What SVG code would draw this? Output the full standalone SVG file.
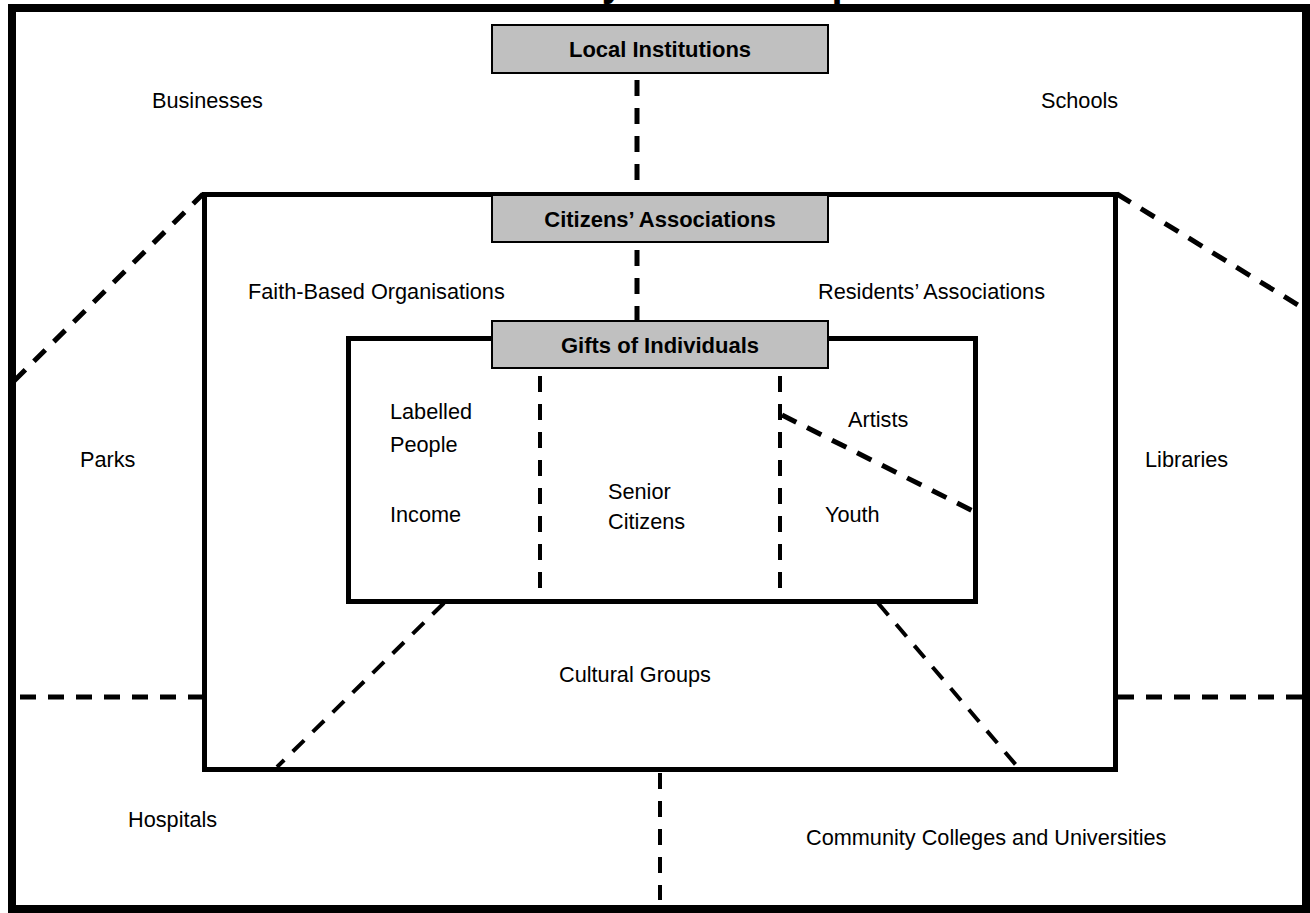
<svg xmlns="http://www.w3.org/2000/svg" width="1310" height="913" viewBox="0 0 1310 913">
<style>
.lbl{font-family:"Liberation Sans",Arial,sans-serif;font-size:21.7px;fill:#000}
.box{fill:#c0c0c0;stroke:#000;stroke-width:2}
.boxt{font-family:"Liberation Sans",Arial,sans-serif;font-size:22px;font-weight:bold;fill:#000;text-anchor:middle}
.frame{fill:none;stroke:#000}
.dash{fill:none;stroke:#000;stroke-width:5;stroke-dasharray:16 12}
.dash4{fill:none;stroke:#000;stroke-width:4;stroke-dasharray:16 12}
</style>
<rect width="1310" height="913" fill="#fff"/>
<text x="404" y="-4" font-family="Liberation Sans,Arial,sans-serif" font-size="40" font-weight="bold">Community Assets Map</text>
<g id="frames">
<rect class="frame" x="12" y="8" width="1294" height="901" stroke-width="8"/>
<rect class="frame" x="204.5" y="194.5" width="911" height="575" stroke-width="5"/>
<rect class="frame" x="348.5" y="338.5" width="627" height="263" stroke-width="5"/>
</g>
<g id="connectors">
<line class="dash" x1="637" y1="80" x2="637" y2="192"/>
<line class="dash" x1="637" y1="250" x2="637" y2="320"/>
<line class="dash4" x1="540" y1="376" x2="540" y2="590"/>
<line class="dash4" x1="780" y1="376" x2="780" y2="590"/>
<line class="dash" x1="782" y1="415" x2="973" y2="511"/>
<line class="dash" x1="14" y1="381" x2="203" y2="194"/>
<line class="dash" x1="1117" y1="194" x2="1298" y2="305"/>
<line class="dash" x1="20" y1="697" x2="202" y2="697"/>
<line class="dash" x1="1118" y1="697" x2="1302" y2="697"/>
<line class="dash4" x1="444" y1="603" x2="277" y2="767"/>
<line class="dash4" x1="878" y1="603" x2="1016" y2="765"/>
<line class="dash4" x1="660" y1="773" x2="660" y2="900"/>
</g>
<g id="local-institutions">
<rect class="box" x="492" y="25" width="336" height="48"/>
<text class="boxt" x="660" y="57">Local Institutions</text>
</g>
<g id="citizens-associations">
<rect class="box" x="492" y="195" width="336" height="47"/>
<text class="boxt" x="660" y="227">Citizens’ Associations</text>
</g>
<g id="gifts-of-individuals">
<rect class="box" x="492" y="321" width="336" height="47"/>
<text class="boxt" x="660" y="353">Gifts of Individuals</text>
</g>
<g id="businesses"><text class="lbl" x="152" y="108">Businesses</text></g>
<g id="schools"><text class="lbl" x="1041" y="108">Schools</text></g>
<g id="faith-based"><text class="lbl" x="248" y="299">Faith-Based Organisations</text></g>
<g id="residents"><text class="lbl" x="818" y="299">Residents’ Associations</text></g>
<g id="labelled-people"><text class="lbl" x="390" y="419">Labelled</text><text class="lbl" x="390" y="452">People</text></g>
<g id="income"><text class="lbl" x="390" y="522">Income</text></g>
<g id="senior-citizens"><text class="lbl" x="608" y="499">Senior</text><text class="lbl" x="608" y="529">Citizens</text></g>
<g id="artists"><text class="lbl" x="848" y="427">Artists</text></g>
<g id="youth"><text class="lbl" x="825" y="522">Youth</text></g>
<g id="parks"><text class="lbl" x="80" y="467">Parks</text></g>
<g id="libraries"><text class="lbl" x="1145" y="467">Libraries</text></g>
<g id="cultural-groups"><text class="lbl" x="559" y="682">Cultural Groups</text></g>
<g id="hospitals"><text class="lbl" x="128" y="827">Hospitals</text></g>
<g id="colleges"><text class="lbl" x="806" y="845">Community Colleges and Universities</text></g>
</svg>
